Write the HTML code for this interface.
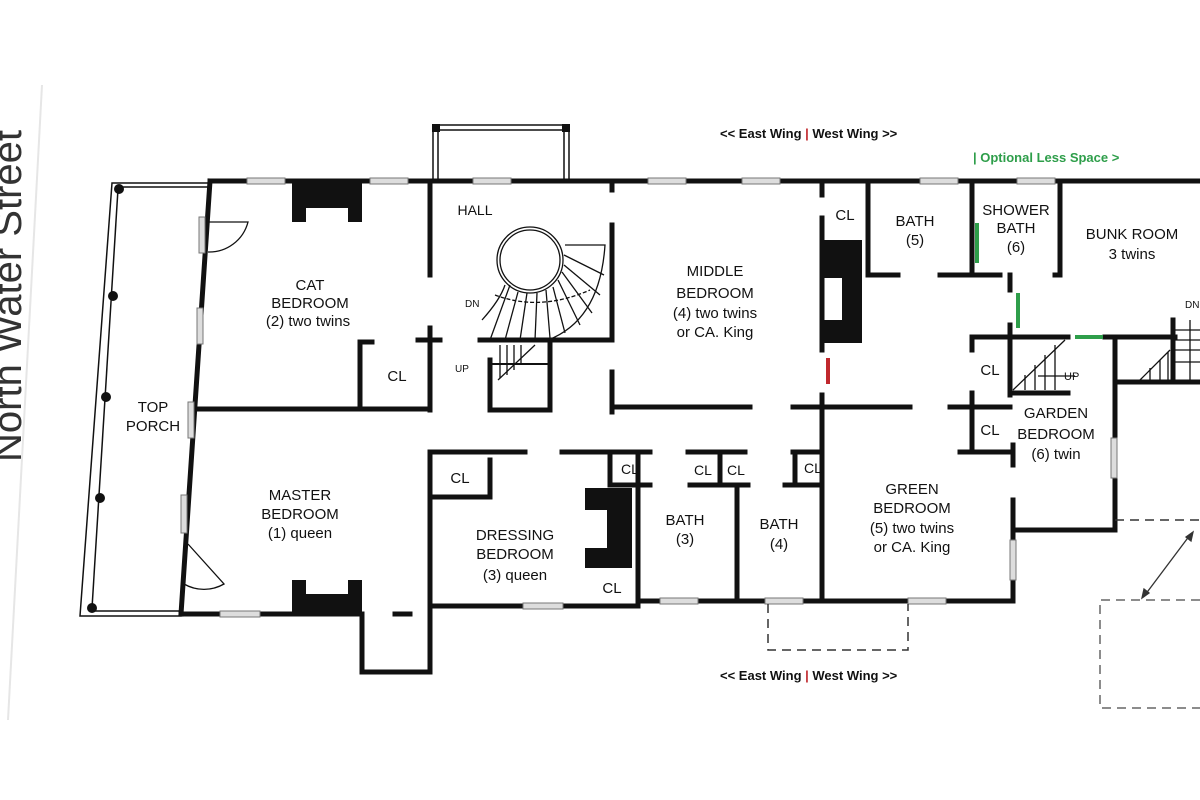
<!DOCTYPE html>
<html><head><meta charset="utf-8"><style>
html,body{margin:0;padding:0;background:#fff;}
svg{display:block;}
text{font-family:"Liberation Sans",sans-serif;fill:#111;}
.l{font-size:15px;text-anchor:middle;}
.b{font-size:13px;font-weight:bold;}
</style></head><body>
<svg width="1200" height="800" viewBox="0 0 1200 800" xmlns="http://www.w3.org/2000/svg">
<rect width="1200" height="800" fill="#fff"/>
<line x1="42" y1="85" x2="8" y2="720" stroke="#e6e6e6" stroke-width="2"/>
<text transform="translate(21,130) rotate(-90)" font-size="40" text-anchor="end" style="fill:#333">North Water Street</text>

<!-- balcony -->
<g stroke="#111" fill="none" stroke-width="1.5">
<rect x="433" y="125" width="136" height="56"/>
<rect x="438" y="130" width="126" height="51"/>
</g>
<rect x="432" y="124" width="8" height="8" fill="#111"/><rect x="562" y="124" width="8" height="8" fill="#111"/>

<!-- porch -->
<g stroke="#111" fill="none" stroke-width="1.5">
<polygon points="112,183 210,183 181,616 80,616"/>
<polyline points="118,189 92,608"/>
<line x1="118" y1="187" x2="208" y2="187"/>
<line x1="92" y1="611" x2="181" y2="611"/>
</g>
<g fill="#111">
<circle cx="119" cy="189" r="5"/><circle cx="113" cy="296" r="5"/><circle cx="106" cy="397" r="5"/><circle cx="100" cy="498" r="5"/><circle cx="92" cy="608" r="5"/>
</g>

<g stroke="#111" stroke-width="5" fill="none" stroke-linecap="square">
<line x1="210" y1="181" x2="1200" y2="181"/>
<line x1="210" y1="181" x2="181" y2="614"/>
<line x1="181" y1="614" x2="362" y2="614"/>
<polyline points="362,614 362,672 430,672 430,535"/>
<line x1="195" y1="409" x2="430" y2="409"/>
<line x1="430" y1="181" x2="430" y2="275"/>
<line x1="430" y1="328" x2="430" y2="410"/>
<line x1="418" y1="340" x2="440" y2="340"/>
<polyline points="372,342 360,342 360,407"/>
<line x1="395" y1="614" x2="410" y2="614"/>
<line x1="430" y1="452" x2="430" y2="612"/>
<line x1="480" y1="340" x2="612" y2="340"/>
<line x1="612" y1="225" x2="612" y2="340"/>
<line x1="612" y1="181" x2="612" y2="190"/>
<polyline points="490,360 490,410 550,410 550,340"/>
<line x1="490" y1="364" x2="550" y2="364" stroke-width="2"/>
<line x1="612" y1="372" x2="612" y2="412"/>
<line x1="612" y1="407" x2="750" y2="407"/>
<line x1="793" y1="407" x2="910" y2="407"/>
<line x1="950" y1="407" x2="1010" y2="407"/>
<line x1="822" y1="181" x2="822" y2="195"/>
<line x1="822" y1="218" x2="822" y2="350"/>
<line x1="822" y1="395" x2="822" y2="601"/>
<line x1="430" y1="452" x2="525" y2="452"/>
<line x1="562" y1="452" x2="650" y2="452"/>
<line x1="430" y1="497" x2="490" y2="497"/>
<line x1="490" y1="460" x2="490" y2="497"/>
<line x1="430" y1="606" x2="638" y2="606"/>
<line x1="638" y1="452" x2="638" y2="603"/>
<line x1="610" y1="452" x2="610" y2="485"/>
<line x1="610" y1="485" x2="650" y2="485"/>
<line x1="638" y1="601" x2="1013" y2="601"/>
<line x1="688" y1="452" x2="745" y2="452"/>
<line x1="690" y1="485" x2="748" y2="485"/>
<line x1="720" y1="455" x2="720" y2="485"/>
<line x1="737" y1="485" x2="737" y2="601"/>
<line x1="793" y1="452" x2="822" y2="452"/>
<line x1="785" y1="485" x2="822" y2="485"/>
<line x1="795" y1="455" x2="795" y2="485"/>
<line x1="868" y1="181" x2="868" y2="275"/>
<line x1="868" y1="275" x2="898" y2="275"/>
<line x1="940" y1="275" x2="1000" y2="275"/>
<line x1="972" y1="181" x2="972" y2="275"/>
<line x1="1060" y1="181" x2="1060" y2="275"/>
<line x1="1055" y1="275" x2="1060" y2="275"/>
<line x1="1010" y1="275" x2="1010" y2="290"/>
<line x1="1010" y1="325" x2="1010" y2="395"/>
<line x1="972" y1="337" x2="1068" y2="337"/>
<line x1="972" y1="337" x2="972" y2="350"/>
<line x1="1105" y1="337" x2="1175" y2="337"/>
<line x1="1115" y1="337" x2="1115" y2="530"/>
<line x1="1173" y1="320" x2="1173" y2="380"/>
<line x1="1115" y1="382" x2="1200" y2="382"/>
<line x1="1013" y1="393" x2="1068" y2="393"/>
<line x1="972" y1="393" x2="972" y2="452"/>
<line x1="960" y1="452" x2="1013" y2="452"/>
<line x1="1013" y1="445" x2="1013" y2="465"/>
<line x1="1013" y1="500" x2="1013" y2="601"/>
<line x1="1013" y1="530" x2="1115" y2="530"/>
</g>

<g fill="#111">
<path d="M292,183 H362 V222 H348 V208 H306 V222 H292 Z"/>
<path d="M292,614 H362 V580 H348 V594 H306 V580 H292 Z"/>
<path d="M822,240 H862 V343 H822 V320 H842 V278 H822 Z"/>
<path d="M585,488 H632 V568 H585 V548 H607 V510 H585 Z"/>
</g>
<rect x="826" y="358" width="4" height="26" fill="#c0282d"/>
<g fill="#2e9e4a">
<rect x="975" y="223" width="4" height="40"/>
<rect x="1016" y="293" width="4" height="35"/>
<rect x="1075" y="335" width="28" height="4"/>
</g>

<g fill="#ddd" stroke="#777" stroke-width="1">
<rect x="247" y="178" width="38" height="6"/><rect x="370" y="178" width="38" height="6"/>
<rect x="473" y="178" width="38" height="6"/><rect x="648" y="178" width="38" height="6"/><rect x="742" y="178" width="38" height="6"/>
<rect x="920" y="178" width="38" height="6"/><rect x="1017" y="178" width="38" height="6"/>
<rect x="220" y="611" width="40" height="6"/><rect x="523" y="603" width="40" height="6"/>
<rect x="660" y="598" width="38" height="6"/><rect x="765" y="598" width="38" height="6"/><rect x="908" y="598" width="38" height="6"/>
<rect x="1111" y="438" width="6" height="40"/><rect x="1010" y="540" width="6" height="40"/>
<rect x="199" y="217" width="6" height="36"/><rect x="197" y="308" width="6" height="36"/>
<rect x="188" y="402" width="6" height="36"/><rect x="181" y="495" width="6" height="38"/>
</g>
<g stroke="#111" fill="none" stroke-width="1.3">
<path d="M208,252 A40,40 0 0 0 248,222 L208,222"/>
<path d="M184,584 A40,40 0 0 0 224,584 L188,544"/>
</g>

<g stroke="#111" fill="none" stroke-width="1.3">
<circle cx="530" cy="260" r="33"/><circle cx="530" cy="260" r="30"/>
<path d="M482,320 Q500,300 505,285"/>
<path d="M548,340 Q600,320 605,245 L565,245"/>
<line x1="490" y1="340" x2="510" y2="285"/><line x1="505" y1="340" x2="518" y2="292"/>
<line x1="520" y1="340" x2="527" y2="293"/><line x1="535" y1="340" x2="537" y2="293"/>
<line x1="550" y1="338" x2="546" y2="290"/><line x1="565" y1="333" x2="553" y2="287"/>
<line x1="580" y1="325" x2="558" y2="280"/><line x1="592" y1="313" x2="562" y2="272"/>
<line x1="600" y1="295" x2="564" y2="265"/><line x1="604" y1="275" x2="564" y2="255"/>
<path d="M495,295 Q540,312 590,290" stroke-dasharray="4 2"/>
<line x1="500" y1="345" x2="500" y2="378"/><line x1="507" y1="345" x2="507" y2="375"/><line x1="514" y1="345" x2="514" y2="370"/><line x1="521" y1="345" x2="521" y2="365"/>
<line x1="498" y1="380" x2="535" y2="345"/>
<line x1="1013" y1="390" x2="1065" y2="340"/>
<line x1="1025" y1="390" x2="1025" y2="375"/><line x1="1035" y1="390" x2="1035" y2="365"/><line x1="1045" y1="390" x2="1045" y2="355"/><line x1="1055" y1="390" x2="1055" y2="345"/>
<line x1="1038" y1="376" x2="1075" y2="376"/>
<line x1="1140" y1="380" x2="1170" y2="350"/>
<line x1="1150" y1="380" x2="1150" y2="368"/><line x1="1160" y1="380" x2="1160" y2="360"/><line x1="1168" y1="380" x2="1168" y2="352"/>
<line x1="1175" y1="330" x2="1200" y2="330"/><line x1="1175" y1="340" x2="1200" y2="340"/><line x1="1175" y1="350" x2="1200" y2="350"/><line x1="1175" y1="362" x2="1200" y2="362"/>
<line x1="1190" y1="320" x2="1190" y2="380"/>
</g>

<g stroke="#333" fill="none" stroke-width="1.5" stroke-dasharray="9 6">
<polyline points="768,604 768,650 908,650 908,604"/>
<line x1="1115" y1="520" x2="1200" y2="520"/>
<polyline points="1200,600 1100,600 1100,708 1200,708" stroke="#666"/>
</g>
<g stroke="#333" stroke-width="1.3" fill="#333">
<line x1="1190" y1="535" x2="1145" y2="595"/>
<path d="M1142,598 l2,-9 l5,4 z"/><path d="M1193,532 l-2,9 l-5,-4 z"/>
</g>

<text class="l" x="310" y="290">CAT</text>
<text class="l" x="310" y="308">BEDROOM</text>
<text class="l" x="308" y="326">(2) two twins</text>
<text class="l" x="397" y="381">CL</text>
<text class="l" x="153" y="412">TOP</text>
<text class="l" x="153" y="431">PORCH</text>
<text class="l" x="300" y="500">MASTER</text>
<text class="l" x="300" y="519">BEDROOM</text>
<text class="l" x="300" y="538">(1) queen</text>
<text class="l" x="475" y="215" style="font-size:14px">HALL</text>
<text x="465" y="307" font-size="10">DN</text>
<text x="455" y="372" font-size="10">UP</text>
<text class="l" x="715" y="276">MIDDLE</text>
<text class="l" x="715" y="298">BEDROOM</text>
<text class="l" x="715" y="318">(4) two twins</text>
<text class="l" x="715" y="337">or CA. King</text>
<text class="l" x="460" y="483">CL</text>
<text class="l" x="630" y="474" style="font-size:14px">CL</text>
<text class="l" x="703" y="475" style="font-size:14px">CL</text>
<text class="l" x="736" y="475" style="font-size:14px">CL</text>
<text class="l" x="813" y="473" style="font-size:14px">CL</text>
<text class="l" x="515" y="540">DRESSING</text>
<text class="l" x="515" y="559">BEDROOM</text>
<text class="l" x="515" y="580">(3) queen</text>
<text class="l" x="612" y="593">CL</text>
<text class="l" x="685" y="525">BATH</text>
<text class="l" x="685" y="544">(3)</text>
<text class="l" x="779" y="529">BATH</text>
<text class="l" x="779" y="549">(4)</text>
<text class="l" x="912" y="494">GREEN</text>
<text class="l" x="912" y="513">BEDROOM</text>
<text class="l" x="912" y="533">(5) two twins</text>
<text class="l" x="912" y="552">or CA. King</text>
<text class="l" x="845" y="220">CL</text>
<text class="l" x="915" y="226">BATH</text>
<text class="l" x="915" y="245">(5)</text>
<text class="l" x="1016" y="215">SHOWER</text>
<text class="l" x="1016" y="233">BATH</text>
<text class="l" x="1016" y="252">(6)</text>
<text class="l" x="1132" y="239">BUNK ROOM</text>
<text class="l" x="1132" y="259">3 twins</text>
<text class="l" x="990" y="375">CL</text>
<text class="l" x="990" y="435">CL</text>
<text x="1064" y="380" font-size="11">UP</text>
<text x="1185" y="308" font-size="10">DN</text>
<text class="l" x="1056" y="418">GARDEN</text>
<text class="l" x="1056" y="439">BEDROOM</text>
<text class="l" x="1056" y="459">(6) twin</text>
<text class="b" x="720" y="138">&lt;&lt; East Wing <tspan style="fill:#c0282d">|</tspan> West Wing &gt;&gt;</text>
<text class="b" x="720" y="680">&lt;&lt; East Wing <tspan style="fill:#c0282d">|</tspan> West Wing &gt;&gt;</text>
<text class="b" x="973" y="162" style="fill:#2e9e4a">| Optional Less Space &gt;</text>
</svg>
</body></html>
